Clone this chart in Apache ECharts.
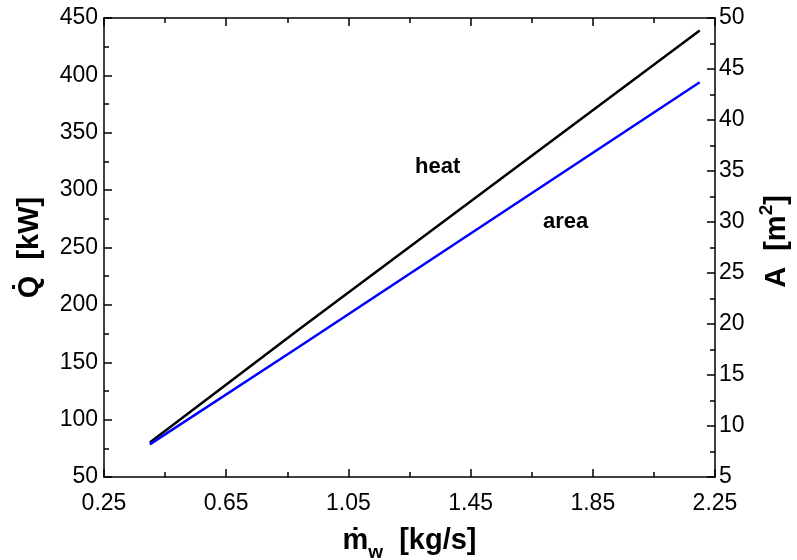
<!DOCTYPE html>
<html><head><meta charset="utf-8">
<script src="https://cdn.jsdelivr.net/npm/echarts@6/dist/echarts.min.js"></script>
<style>html,body{margin:0;padding:0;background:#fff}#c{width:797px;height:560px}</style>
</head><body><div id="c"></div>
<script>
const mw = [0.4, 0.89, 2.2];
const heat = [80, 179, 439];
const area = [8.2, 17.8, 43.7];
const F = 'Liberation Sans, Arial, sans-serif';
const chart = echarts.init(document.getElementById('c'));
const tick = {show:true, inside:true, length:8, lineStyle:{color:'#000', width:1.5}};
const minor = {show:true, splitNumber:2, length:5, lineStyle:{color:'#000', width:1.5}};
const line = {show:true, lineStyle:{color:'#000', width:1.5}};
chart.setOption({
  animation:false,
  backgroundColor:'#fff',
  grid:{left:104, right:82, top:18, bottom:83, containLabel:false, outerBoundsMode:'none'},
  xAxis:[{
    type:'value', min:0.25, max:2.25, interval:0.4,
    axisLine:line, axisTick:tick, minorTick:minor, splitLine:{show:false},
    axisLabel:{color:'#000', fontFamily:F, fontSize:23, margin:15, formatter:v=>v.toFixed(2)},
    name:'{a|ṁ}{s|w}{a|  [kg/s]}', nameLocation:'middle', nameGap:44,
    nameTextStyle:{rich:{
      a:{fontFamily:F, fontSize:29, fontWeight:'bold', color:'#000', verticalAlign:'bottom', lineHeight:34},
      s:{fontFamily:F, fontSize:19, fontWeight:'bold', color:'#000', verticalAlign:'bottom', lineHeight:26, padding:[0,0,-7,0]}
    }}
  },{
    type:'value', position:'top', min:0.25, max:2.25, interval:0.4,
    axisLine:line, axisTick:tick, minorTick:minor, splitLine:{show:false},
    axisLabel:{show:false}
  }],
  yAxis:[{
    type:'value', min:50, max:450, interval:50,
    axisLine:line, axisTick:tick, minorTick:minor, splitLine:{show:false},
    axisLabel:{color:'#000', fontFamily:F, fontSize:23, margin:6},
    name:'Q̇  [kW]', nameLocation:'middle', nameGap:60, nameRotate:90,
    nameTextStyle:{fontFamily:F, fontSize:29, fontWeight:'bold', color:'#000'}
  },{
    type:'value', position:'right', min:5, max:50, interval:5,
    axisLine:line, axisTick:tick, minorTick:minor, splitLine:{show:false},
    axisLabel:{color:'#000', fontFamily:F, fontSize:23, margin:4},
    name:'{a|A  [m}{s|2}{a|]}', nameLocation:'middle', nameGap:42, nameRotate:90,
    nameTextStyle:{padding:[0,0,0,12], rich:{
      a:{fontFamily:F, fontSize:29, fontWeight:'bold', color:'#000', verticalAlign:'bottom', lineHeight:34},
      s:{fontFamily:F, fontSize:19, fontWeight:'bold', color:'#000', verticalAlign:'top', lineHeight:24, padding:[0,0,12,0]}
    }}
  }],
  series:[{
    type:'line', xAxisIndex:0, yAxisIndex:0, showSymbol:false,
    data:mw.map((x,i)=>[x,heat[i]]), lineStyle:{color:'#000', width:2.5}
  },{
    type:'line', xAxisIndex:0, yAxisIndex:1, showSymbol:false,
    data:mw.map((x,i)=>[x,area[i]]), lineStyle:{color:'#0000ff', width:2.5}
  }],
  graphic:[
    {type:'text', x:415, y:167, style:{text:'heat', font:'bold 22px '+F, fill:'#000', verticalAlign:'middle'}},
    {type:'text', x:543, y:222, style:{text:'area', font:'bold 22px '+F, fill:'#000', verticalAlign:'middle'}}
  ]
});
</script></body></html>
